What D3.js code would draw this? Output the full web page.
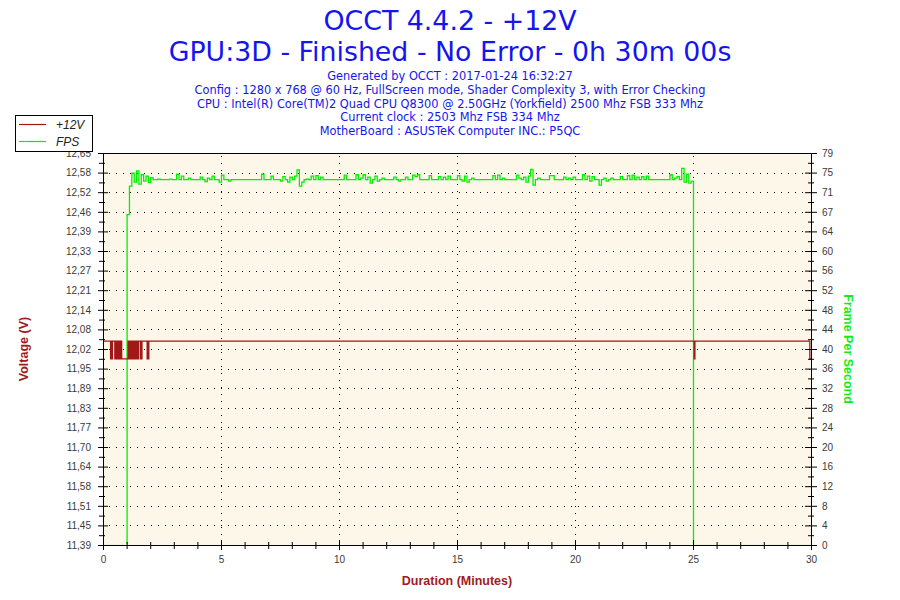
<!DOCTYPE html>
<html><head><meta charset="utf-8">
<script src="https://cdn.jsdelivr.net/npm/d3@7"></script>
<style>body{margin:0;background:#fff} svg{display:block}</style>
</head><body><svg id="c" width="900" height="600"></svg>
<script>
// ---------- data ----------
const titleLines = ["OCCT 4.4.2 - +12V", "GPU:3D - Finished - No Error - 0h 30m 00s"];
const infoLines = [
  "Generated by OCCT : 2017-01-24 16:32:27",
  "Config : 1280 x 768 @ 60 Hz, FullScreen mode, Shader Complexity 3, with Error Checking",
  "CPU : Intel(R) Core(TM)2 Quad CPU Q8300 @ 2.50GHz (Yorkfield) 2500 Mhz FSB 333 Mhz",
  "Current clock : 2503 Mhz FSB 334 Mhz",
  "MotherBoard : ASUSTeK Computer INC.: P5QC"
];
const seriesNames = ["+12V", "FPS"];
const voltTickLabels = ["11,39","11,45","11,51","11,58","11,64","11,70","11,77","11,83","11,89","11,95",
  "12,02","12,08","12,14","12,21","12,27","12,33","12,39","12,46","12,52","12,58","12,65"];
const fpsTickLabels = ["0","4","8","12","16","20","24","28","32","36","40","44","48","52","56","60","64","67","71","75","79"];
const minuteTicks = [0,5,10,15,20,25,30];
const voltRange = [11.39, 12.65];
const fpsRange = [0, 79.4];
const durationRange = [0, 30];

// +12V samples (minutes, volts)
const voltTimes = [0,0.30,0.33,0.36,0.38,0.48,0.50,0.53,0.56,0.58,0.60,0.63,0.66,0.68,0.70,0.72,0.74,0.77,
  1.04,1.06,1.08,1.10,1.12,1.14,1.16,1.18,1.20,1.22,1.24,1.26,1.28,1.30,1.32,1.34,1.36,1.38,1.40,1.42,1.44,1.46,1.48,
  1.56,1.58,1.61,1.63,1.85,1.87,1.90,1.92,25.03,25.06,29.93,30];
const voltValues = [12.047,11.99,12.047,11.99,12.047,11.99,12.047,11.99,12.047,11.99,12.047,11.99,12.047,11.99,12.047,11.99,12.047,11.99,
  12.047,11.99,12.047,11.99,12.047,11.99,12.047,11.99,12.047,11.99,12.047,11.99,12.047,11.99,12.047,11.99,12.047,11.99,12.047,11.99,12.047,11.99,12.047,
  11.99,12.047,11.99,12.047,11.99,12.047,11.99,12.047,11.99,12.047,11.99,11.99];

// FPS samples, one every 0.1 minute from 0 to 30
const fpsStepMinutes = 0.1;
const fpsValues = [
  0,0,0,0,0,0,0,0,0,0,
  67,72.8,75.4,73.6,75.9,73.2,75.1,73.8,74.8,73.5,
  74.5,74.1,74.1,74.2,74.1,74.1,74.1,74.1,74.2,74.1,
  74.1,75.2,74.1,74.8,74.1,74.1,74.4,74.1,74.1,74.1,
  74.1,74.6,74.1,73.7,74.4,74.1,74.8,74.1,74.1,73.6,
  75.0,74.1,74.1,73.8,74.1,74.1,74.1,74.1,74.1,74.1,
  74.1,74.1,74.1,74.1,74.1,74.1,74.1,75.2,74.1,74.1,
  74.1,74.8,74.1,74.1,74.1,73.8,74.7,74.1,73.6,74.6,
  74.1,74.8,76.1,72.8,73.6,74.1,74.2,74.1,74.8,74.1,
  74.9,74.1,74.6,74.1,74.1,74.1,74.1,74.1,74.1,74.1,
  74.1,74.1,75.0,74.1,74.1,74.1,74.1,75.1,74.1,74.4,
  75.1,74.1,74.6,73.4,74.1,74.8,73.8,74.1,74.4,74.1,
  74.1,74.1,74.1,74.6,74.1,73.8,74.1,74.1,74.6,74.1,
  74.1,75.0,74.7,75.1,74.1,74.1,74.1,74.1,74.9,74.1,
  74.1,74.1,74.7,74.1,74.6,74.1,74.8,74.1,74.1,74.1,
  74.9,74.1,73.8,74.8,73.6,74.1,74.4,74.1,74.1,74.1,
  74.1,74.1,74.1,74.1,74.1,74.9,74.1,75.0,74.1,74.4,
  74.1,74.1,74.1,74.1,74.1,75.0,74.4,74.1,74.6,73.6,
  74.8,76.2,73.0,74.1,74.4,74.1,74.1,74.1,74.1,74.9,
  74.9,74.1,74.1,74.1,74.1,74.6,74.1,74.4,74.1,74.6,
  74.1,74.1,74.1,75.1,74.1,74.8,73.8,74.7,74.1,74.1,
  73.0,74.1,74.4,73.8,74.1,74.4,74.1,74.1,74.1,74.7,
  74.1,74.1,74.9,74.1,75.0,74.1,74.6,74.1,74.7,74.1,
  74.8,74.1,74.1,74.1,74.1,74.1,74.1,74.1,74.1,74.1,
  75.1,74.1,74.4,74.7,74.1,76.4,73.6,75.2,73.4,73.8,
  0,0,0,0,0,0,0,0,0,0,
  0,0,0,0,0,0,0,0,0,0,
  0,0,0,0,0,0,0,0,0,0,
  0,0,0,0,0,0,0,0,0,0,
  0,0,0,0,0,0,0,0,0,0,
  0
];

// ---------- drawing ----------
const svg = d3.select("#c");
const L = 103, R = 811, T = 153, B = 545;
const x = d3.scaleLinear().domain(durationRange).range([L, R]);
const yV = d3.scaleLinear().domain(voltRange).range([B, T]);
const yF = d3.scaleLinear().domain(fpsRange).range([B, T]);

const nMaj = voltTickLabels.length - 1;
const vStep = (voltRange[1]-voltRange[0]) / nMaj;
const fStep = (fpsRange[1]-fpsRange[0]) / nMaj;
const vMaj = voltTickLabels.map((_, i) => voltRange[0] + i*vStep);
const vMin = d3.range(nMaj).map(i => voltRange[0] + (i+0.5)*vStep);
const fMaj = fpsTickLabels.map((_, i) => fpsRange[0] + i*fStep);
const fMin = d3.range(nMaj).map(i => fpsRange[0] + (i+0.5)*fStep);
const xMin = d3.range(1,30).filter(m => m % 5 !== 0);

const red = "#a01818", green = "#00f000", blue = "#1515ee", axisRed = "#a01c1c";
const tickFont = "'Liberation Sans', Arial, sans-serif";

svg.append("defs").append("clipPath").attr("id", "plotClip")
  .append("rect").attr("x", L).attr("y", T - 10).attr("width", R - L + 2).attr("height", B - T + 10 - 0.7);

// plot background
svg.append("rect").attr("x", L).attr("y", T).attr("width", R-L).attr("height", B-T).attr("fill", "#fdf7e9");

// grid
const grid = svg.append("g").attr("stroke", "#000").attr("stroke-width", 1).attr("stroke-dasharray", "1,6");
grid.selectAll("line.h").data(vMaj.slice(1, -1)).join("line")
  .attr("x1", L+6).attr("x2", R).attr("y1", d => Math.round(yV(d))+0.5).attr("y2", d => Math.round(yV(d))+0.5);
grid.selectAll("line.v").data(minuteTicks.slice(1, -1)).join("line")
  .attr("y1", T+3).attr("y2", B).attr("x1", d => Math.round(x(d))+0.5).attr("x2", d => Math.round(x(d))+0.5);

// series
const voltData = voltTimes.map((t, i) => [t, voltValues[i]]);
const fpsData = fpsValues.map((v, i) => [i*fpsStepMinutes, v]);
const series = svg.append("g").attr("clip-path", "url(#plotClip)");
series.append("path").datum(fpsData)
  .attr("fill", "none").attr("stroke", green).attr("stroke-width", 1.3)
  .attr("d", d3.line().curve(d3.curveStepAfter).x(d => x(d[0]) + 0.5).y(d => yF(d[1]) + 0.5));
series.append("path").datum(voltData)
  .attr("fill", "none").attr("stroke", red).attr("stroke-width", 1.3)
  .attr("d", d3.line().curve(d3.curveStepAfter).x(d => x(d[0]) + 0.5).y(d => yV(d[1]) + 0.5));

// axes
function style(g) {
  g.selectAll("text").attr("font-family", tickFont).attr("font-size", 10).attr("fill", "#3a3a3a");
  g.selectAll("line,path").attr("stroke", "#000");
}
const gl = svg.append("g").attr("transform", `translate(${L},0)`)
  .call(d3.axisLeft(yV).tickValues(vMaj).tickFormat((d, i) => voltTickLabels[i]).tickSize(5).tickSizeOuter(0).tickPadding(7));
gl.selectAll(".tick line").attr("x1", 5);
svg.append("g").attr("transform", `translate(${L},0)`)
  .call(d3.axisLeft(yV).tickValues(vMin).tickFormat("").tickSize(4).tickSizeOuter(0))
  .call(g => g.select(".domain").remove())
  .call(g => g.selectAll(".tick line").attr("x1", 2).attr("stroke", "#000"));
style(gl);

const gr = svg.append("g").attr("transform", `translate(${R},0)`)
  .call(d3.axisRight(yF).tickValues(fMaj).tickFormat((d, i) => fpsTickLabels[i]).tickSize(6).tickSizeOuter(0).tickPadding(5));
gr.selectAll(".tick line").attr("x1", -6);
svg.append("g").attr("transform", `translate(${R},0)`)
  .call(d3.axisRight(yF).tickValues(fMin).tickFormat("").tickSize(3).tickSizeOuter(0))
  .call(g => g.select(".domain").remove())
  .call(g => g.selectAll(".tick line").attr("x1", -3).attr("stroke", "#000"));
style(gr);

const gb = svg.append("g").attr("transform", `translate(0,${B})`)
  .call(d3.axisBottom(x).tickValues(minuteTicks).tickFormat(d3.format("d")).tickSize(5).tickSizeOuter(0).tickPadding(6));
gb.selectAll(".tick line").attr("y1", -5);
svg.append("g").attr("transform", `translate(0,${B})`)
  .call(d3.axisBottom(x).tickValues(xMin).tickFormat("").tickSize(4).tickSizeOuter(0))
  .call(g => g.select(".domain").remove())
  .call(g => g.selectAll(".tick line").attr("y1", -3).attr("stroke", "#000"));
style(gb);

// top border
svg.append("line").attr("x1", L).attr("x2", R + 1).attr("y1", T + 0.5).attr("y2", T + 0.5).attr("stroke", "#000");

// titles
svg.append("g").selectAll("text").data(titleLines).join("text")
  .attr("x", 450).attr("y", (d, i) => 30 + i*31)
  .attr("text-anchor", "middle").attr("font-family", "'DejaVu Sans', sans-serif")
  .attr("font-size", 26.8).attr("fill", blue).text(d => d);
svg.append("g").selectAll("text").data(infoLines).join("text")
  .attr("x", 450).attr("y", (d, i) => 80 + i*13.8)
  .attr("text-anchor", "middle").attr("font-family", "'DejaVu Sans', sans-serif")
  .attr("font-size", 11.4).attr("fill", blue).text(d => d);

// axis titles
const titleFont = "'Liberation Sans', Arial, sans-serif";
svg.append("text").attr("transform", "translate(28,349) rotate(-90)")
  .attr("text-anchor", "middle").attr("font-family", titleFont).attr("font-weight", "bold")
  .attr("font-size", 12.5).attr("fill", axisRed).text("Voltage (V)");
svg.append("text").attr("transform", "translate(844,349) rotate(90)")
  .attr("text-anchor", "middle").attr("font-family", titleFont).attr("font-weight", "bold")
  .attr("font-size", 12.5).attr("fill", "#11ee11").text("Frame Per Second");
svg.append("text").attr("x", 457).attr("y", 585)
  .attr("text-anchor", "middle").attr("font-family", titleFont).attr("font-weight", "bold")
  .attr("font-size", 12.5).attr("fill", axisRed).text("Duration (Minutes)");

// legend
const lg = svg.append("g");
lg.append("rect").attr("x", 15.5).attr("y", 115.5).attr("width", 77).attr("height", 36)
  .attr("fill", "#fff").attr("stroke", "#000");
const legColors = [red, green];
seriesNames.forEach((n, i) => {
  const yy = 124 + i*17;
  lg.append("line").attr("x1", 19).attr("x2", 46).attr("y1", yy+0.5).attr("y2", yy+0.5)
    .attr("stroke", legColors[i]).attr("stroke-width", 1.2);
  lg.append("text").attr("x", 56).attr("y", yy+4.5).attr("font-family", titleFont)
    .attr("font-style", "italic").attr("font-size", 12).attr("fill", "#222").text(n);
});
</script></body></html>
